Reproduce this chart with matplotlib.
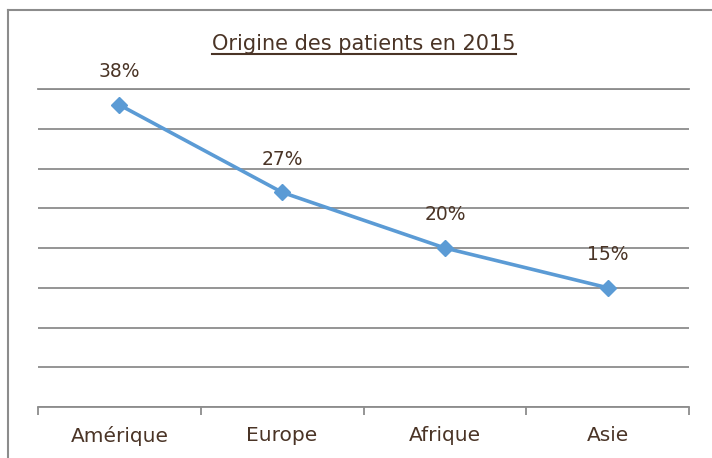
import matplotlib
matplotlib.use('Agg')
import matplotlib.pyplot as plt
from matplotlib.lines import Line2D
import numpy as np

categories = ['Amérique', 'Europe', 'Afrique', 'Asie']
values = [0.38, 0.27, 0.20, 0.15]
labels = ['38%', '27%', '20%', '15%']
title = 'Origine des patients en 2015'

text_color = '#4a3426'
line_color = '#5b9bd5'
grid_color = '#8c8c8c'

plt.rcParams['font.family'] = ['DejaVu Sans']

fig = plt.figure(figsize=(7.12, 4.58), dpi=100)
ax = fig.add_axes([38 / 712, 1 - 407 / 458, (689 - 38) / 712, (407 - 89) / 458])

x = np.arange(len(categories))
ax.plot(x, values, color=line_color, linewidth=2.6, marker='D', markersize=8.5,
        clip_on=False, zorder=3)
for xi, v, lab in zip(x, values, labels):
    ax.annotate(lab, (xi, v), xytext=(0, 17), textcoords='offset points',
                ha='center', va='bottom', fontsize=13.5, color=text_color)

ax.set_xlim(-0.5, len(categories) - 0.5)
ax.set_ylim(0, 0.40)
ax.set_yticks(np.arange(0, 0.401, 0.05))
ax.yaxis.grid(True, color=grid_color, linewidth=1.3)
ax.set_axisbelow(True)
ax.tick_params(axis='y', left=False, labelleft=False)

ax.set_xticks(x, categories, fontsize=14.5, color=text_color)
ax.set_xticks(np.arange(-0.5, len(categories)), minor=True)
ax.tick_params(axis='x', which='major', length=0, pad=14)
ax.tick_params(axis='x', which='minor', length=6, width=1.3, color=grid_color,
               direction='out')
for side in ['left', 'right']:
    ax.spines[side].set_visible(False)
for side in ['top', 'bottom']:
    ax.spines[side].set_color(grid_color)
    ax.spines[side].set_linewidth(1.3)

# outer frame of the chart (cropped on right and bottom)
fig.add_artist(Line2D([8 / 712, 8 / 712], [0, 1 - 10 / 458], transform=fig.transFigure,
                      color='#8c8c8c', linewidth=1.5))
fig.add_artist(Line2D([8 / 712, 1], [1 - 10 / 458, 1 - 10 / 458], transform=fig.transFigure,
                      color='#8c8c8c', linewidth=1.5))

t = fig.text(364 / 712, 1 - 44 / 458, title, ha='center', va='center',
             fontsize=15, color=text_color)
fig.canvas.draw()
bb = t.get_window_extent().transformed(fig.transFigure.inverted())
fig.add_artist(Line2D([bb.x0, bb.x1], [1 - 54 / 458, 1 - 54 / 458], transform=fig.transFigure,
                      color=text_color, linewidth=1.5))

fig.savefig('out.png', dpi=100)
